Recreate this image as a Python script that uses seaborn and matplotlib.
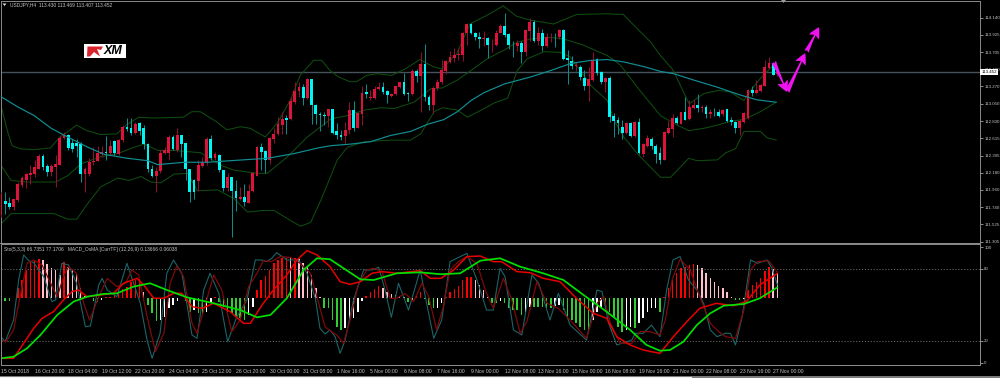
import numpy as np
import seaborn as sns
import matplotlib
matplotlib.use("Agg")
import matplotlib.pyplot as plt
from matplotlib.patches import Rectangle, Polygon, FancyArrowPatch

# ---------- candles (bar order, USDJPY H4) ----------
body_top = [111.91,111.82,111.79,111.84,112.03,112.11,112.16,112.17,112.25,112.39,112.39,112.26,112.26,112.29,112.62,112.66,112.66,112.56,112.55,112.54,
112.23,112.31,112.33,112.43,112.44,112.44,112.52,112.58,112.59,112.76,112.76,112.74,112.80,112.81,112.74,112.54,112.23,112.20,112.43,112.46,
112.63,112.63,112.65,112.65,112.55,112.23,112.08,112.27,112.31,112.60,112.60,112.41,112.40,112.21,112.12,112.12,111.94,111.87,111.87,111.94,
112.17,112.50,112.50,112.45,112.62,112.67,112.80,112.86,112.87,113.08,113.21,113.26,113.26,113.36,113.36,113.04,112.92,112.91,112.98,112.98,
112.70,112.66,112.72,112.97,112.97,112.93,113.19,113.20,113.13,113.24,113.26,113.26,113.21,113.17,113.27,113.32,113.32,113.19,113.47,113.47,
113.55,113.55,113.13,113.25,113.33,113.48,113.59,113.64,113.67,113.68,113.95,114.06,114.06,113.94,113.90,113.88,113.88,113.80,113.95,114.04,
114.04,113.93,113.80,113.82,113.82,113.98,114.09,114.09,113.94,113.94,113.90,113.90,113.90,113.99,113.99,113.63,113.59,113.54,113.52,113.38,
113.36,113.61,113.62,113.45,113.38,113.38,112.89,112.84,112.76,112.81,112.81,112.82,112.82,112.54,112.62,112.61,112.52,112.43,112.69,112.74,
112.87,112.87,112.95,112.94,113.01,113.03,113.04,113.01,113.01,112.95,112.95,112.95,112.97,112.98,112.84,112.82,112.83,112.93,113.23,113.22,
113.22,113.29,113.51,113.57,113.55,113.452]
body_bottom = [111.64,111.78,111.74,111.74,111.83,112.02,112.09,112.15,112.16,112.23,112.25,112.19,112.19,112.25,112.28,112.62,112.49,112.48,112.52,112.16,
112.16,112.16,112.31,112.33,112.42,112.43,112.43,112.43,112.42,112.59,112.73,112.68,112.68,112.71,112.54,112.22,112.14,112.14,112.20,112.43,
112.43,112.48,112.46,112.54,112.23,111.93,111.93,112.07,112.26,112.30,112.37,112.37,112.21,111.98,111.98,111.94,111.86,111.85,111.81,111.80,
111.94,112.14,112.44,112.34,112.34,112.61,112.67,112.78,112.85,112.86,113.07,113.21,113.12,113.12,113.04,112.92,112.91,112.90,112.90,112.68,
112.65,112.63,112.64,112.72,112.74,112.74,112.92,113.18,113.12,113.12,113.24,113.20,113.16,113.15,113.17,113.26,113.17,113.17,113.17,113.40,
113.40,113.13,113.03,113.03,113.25,113.32,113.46,113.58,113.63,113.67,113.67,113.95,113.94,113.90,113.87,113.87,113.79,113.79,113.79,113.95,
113.92,113.80,113.79,113.78,113.71,113.71,113.97,113.85,113.85,113.78,113.78,113.89,113.89,113.89,113.62,113.60,113.53,113.53,113.39,113.27,
113.27,113.35,113.44,113.33,113.32,112.88,112.83,112.81,112.68,112.68,112.64,112.64,112.43,112.42,112.52,112.52,112.42,112.34,112.34,112.68,
112.73,112.81,112.80,112.85,112.86,113.00,113.00,113.00,112.92,112.92,112.95,112.90,112.92,112.83,112.82,112.74,112.74,112.82,112.87,113.19,
113.19,113.21,113.28,113.50,113.42,113.430]
wick_high = [111.93,111.93,111.87,111.85,112.06,112.14,112.17,112.27,112.34,112.41,112.42,112.29,112.29,112.40,112.65,112.69,112.67,112.61,112.61,112.57,
112.25,112.36,112.50,112.52,112.52,112.64,112.59,112.59,112.61,112.78,112.87,112.87,112.82,112.82,112.78,112.55,112.27,112.25,112.46,112.50,
112.65,112.65,112.74,112.65,112.55,112.23,112.10,112.34,112.38,112.63,112.66,112.44,112.42,112.21,112.17,112.12,112.08,112.00,112.03,112.04,
112.19,112.52,112.55,112.46,112.63,112.74,112.88,112.95,112.91,113.14,113.33,113.33,113.30,113.38,113.37,113.05,112.95,112.95,112.99,112.99,
112.81,112.72,112.82,113.07,113.09,112.95,113.28,113.30,113.23,113.28,113.33,113.33,113.23,113.19,113.28,113.33,113.44,113.20,113.49,113.49,
113.71,113.81,113.16,113.28,113.36,113.60,113.61,113.72,113.75,113.75,113.96,114.07,114.07,113.96,113.96,113.97,113.90,113.87,113.98,114.06,
114.20,113.94,113.85,113.86,113.85,113.99,114.14,114.11,114.02,114.00,113.95,113.95,113.95,114.00,114.00,113.73,113.66,113.58,113.54,113.48,
113.52,113.71,113.63,113.46,113.39,113.40,112.93,112.88,112.84,112.82,112.82,112.83,112.87,112.55,112.65,112.63,112.54,112.50,112.71,112.83,
112.92,112.90,112.95,113.14,113.10,113.10,113.17,113.04,113.03,112.99,113.00,112.99,112.99,112.99,112.88,112.83,112.86,112.95,113.24,113.28,
113.35,113.30,113.60,113.64,113.58,113.469]
wick_low = [111.62,111.66,111.72,111.70,111.81,112.00,111.98,112.04,112.12,112.22,112.21,112.14,112.14,112.00,112.27,112.61,112.46,112.44,112.38,112.06,
111.93,112.14,112.27,112.33,112.38,112.34,112.40,112.40,112.40,112.57,112.71,112.65,112.67,112.65,112.48,112.19,112.12,111.93,112.17,112.41,
112.34,112.46,112.44,112.38,112.08,111.81,111.85,111.95,112.25,112.27,112.34,112.34,112.19,111.95,111.95,111.36,111.69,111.83,111.76,111.79,
111.93,112.14,112.21,112.17,112.29,112.55,112.65,112.67,112.67,112.85,113.05,113.14,113.03,113.11,112.80,112.79,112.71,112.78,112.76,112.67,
112.60,112.59,112.55,112.67,112.71,112.74,112.78,113.12,113.10,113.11,113.22,113.18,113.06,113.13,113.16,113.25,113.16,113.08,113.16,113.33,
112.95,113.09,112.97,112.93,113.22,113.30,113.43,113.56,113.58,113.61,113.59,113.79,113.93,113.86,113.75,113.78,113.63,113.71,113.78,113.94,
113.90,113.74,113.64,113.72,113.57,113.65,113.85,113.83,113.79,113.72,113.77,113.83,113.77,113.87,113.60,113.30,113.49,113.47,113.35,113.23,
113.09,113.34,113.42,113.30,113.20,112.82,112.63,112.67,112.60,112.67,112.63,112.63,112.42,112.38,112.50,112.48,112.30,112.29,112.34,112.67,
112.63,112.79,112.79,112.85,112.85,112.99,112.95,112.95,112.87,112.87,112.90,112.88,112.90,112.82,112.78,112.68,112.65,112.81,112.86,113.15,
113.17,113.20,113.27,113.49,113.41,113.407]
falling_bars = [1,2,10,11,16,17,18,19,25,27,30,31,33,34,35,36,41,43,44,45,46,50,52,53,55,56,58,62,63,68,72,74,75,76,77,79,80,81,84,87,91,92,96,97,99,
101,102,112,113,114,116,120,121,122,124,127,129,132,134,135,136,138,139,142,143,145,146,147,148,150,152,155,156,157,161,163,166,168,170,171,173,174,175,179,184]

# ---------- bands and moving average: bar position / price ----------
upper_bar = [0,1.5,2.6,4.6,7.8,11.7,14,15.7,17.9,20.4,23.6,27.5,29.9,32.7,36.2,43.3,45.3,47.3,51.2,53.6,56.8,59.1,62.7,65.5,68.6,71,74.2,76.1,78.1,80.1,82.8,84.4,86.8,89.2,92.7,95.9,99.4,102.6,104.6,108.1,111.3,115.3,119.2,122.3,125.5,131.1,136.6,143.8,147.7,151,154.2,156.5,159.3,160.1,163.3,166.8,170.4,173.1,176.3,177.2,180.2,184]
upper_price = [113.03,112.71,112.52,112.48,112.47,112.49,112.63,112.69,112.78,112.71,112.66,112.67,112.79,112.88,112.87,112.88,112.95,112.95,112.82,112.72,112.76,112.74,112.63,112.80,113.09,113.41,113.60,113.60,113.47,113.39,113.33,113.33,113.41,113.43,113.41,113.49,113.61,113.52,113.49,113.68,114.06,114.17,114.29,114.16,114.11,114.06,114.18,114.19,114.18,114.00,113.83,113.66,113.49,113.41,113.05,113.18,113.22,113.20,113.09,113.17,113.37,113.58]
middle_bar = [0,2.4,6.3,13,15.8,19,23.7,27.7,31.6,34,37.2,41.1,47.4,52.2,55.3,60.9,63.2,68,72.7,78.3,82.2,86.2,90.1,93.3,98,102,104.7,108.3,111.5,115.4,119.4,122.5,125.7,130.4,133.6,138.3,143.9,147,151,156.5,160.5,163.2,166.8,170,173.1,176.3,180.2,184]
middle_price = [112.27,112.08,112.06,112.06,112.14,112.29,112.38,112.42,112.50,112.54,112.46,112.46,112.43,112.27,112.21,112.17,112.17,112.38,112.63,112.86,112.90,112.97,113.00,112.99,113.07,113.24,113.25,113.35,113.47,113.62,113.73,113.83,113.87,113.89,113.87,113.79,113.66,113.54,113.26,112.90,112.78,112.71,112.74,112.78,112.83,112.85,112.95,113.07]
lower_bar = [0,2.4,12.6,15.8,18,20.6,23.7,27.7,30.4,33.2,35.6,37.9,41.1,44.3,46.6,51.4,55.3,58.5,62.4,64.8,68.8,71.1,73.5,75.9,78.3,79.8,82.2,86.2,92.5,97.2,99.6,102.8,104.7,108.3,110.7,115.4,117,120.2,122.5,124.9,128.9,132.8,135.2,140,143.9,145.5,147.8,151,156.5,158.9,163.2,165.2,170,172,174.3,176.3,180.2,181.8,184]
lower_price = [111.53,111.66,111.66,111.59,111.59,111.79,112.00,112.11,112.08,112.13,112.06,112.05,112.16,112.17,111.95,111.96,111.85,111.68,111.70,111.70,111.57,111.50,111.55,111.83,112.14,112.34,112.50,112.57,112.59,112.59,112.67,112.95,113.00,112.97,112.88,113.01,113.06,113.12,113.47,113.62,113.71,113.70,113.64,113.28,113.09,112.84,112.63,112.42,112.12,112.12,112.36,112.33,112.34,112.43,112.48,112.70,112.70,112.62,112.59]
ma_bar = [0,4,7.9,11.9,15.8,20.6,24.5,30,34.8,37.2,43.5,49,54.5,63.2,69.6,75.1,78.3,83,87.7,92.5,97.2,101.2,105.1,108.3,111.5,114.6,119.4,125.7,130.4,135.2,140,143.9,147.8,152.6,156.5,159.7,164.4,170,175.5,179.4,184]
ma_price = [113.14,113.01,112.90,112.74,112.63,112.50,112.41,112.36,112.33,112.28,112.31,112.31,112.33,112.36,112.42,112.49,112.52,112.54,112.57,112.65,112.70,112.79,112.85,112.95,113.09,113.19,113.30,113.39,113.47,113.56,113.60,113.61,113.58,113.52,113.46,113.43,113.35,113.26,113.16,113.10,113.07]

# ---------- oscillators: bar position / value ----------
sto_bar = [0,1,3,4.2,5.4,6.6,7.8,9,10.2,12.1,13,14.5,16.1,18,20.1,21.3,23.3,24.1,25.3,27.6,30,31.6,33.2,34.8,36,37.9,39.5,41.1,43.1,45.5,46.7,48.3,49.8,51.9,54,56.2,58.6,60.6,62.1,63.3,64.5,65.7,68.1,70.9,72.9,74.9,76,77.2,78.4,79.6,80.8,82,84,86.4,88.4,90,91.5,93,94.7,97.1,99.9,101.1,103.1,105,107,108.6,111,113.4,115.7,117.3,118.9,120.1,122.1,124.1,126.5,128.1,130.8,132.8,135.6,139.5,142,143.2,144.8,146.7,150.3,151.1,153,155,157,158.6,160.1,161.8,163.8,165.8,167.4,169,170.6,172.6,173.8,175,176.6,178.6,180.2,182.5,183.7,185]
sto_main = [23.6,19.4,37.5,70.8,91.7,86.9,85.3,79.2,73.6,52.8,54.2,84.7,83.3,68.1,31.9,32.5,66.7,72.2,62.5,56.9,84.7,68.1,51.4,20.8,5.6,26.4,76.4,87.5,76.4,25,22.2,62.5,76.4,59.7,19.4,40.3,54.2,87.5,87.5,86.1,88.9,93.6,87.5,87.5,76.4,55.6,30.6,25.8,29.2,23.6,9.7,20.8,54.2,79.2,79.2,81.4,62.5,39.7,68.1,45.8,79.2,56.9,22.2,37.5,86.1,88.9,93,70.8,45.8,45.8,80.6,73.6,29.2,25,75,68.1,37.5,59.7,33.3,20.8,62.5,61.1,34.7,16.7,20.8,26.4,26.4,33.3,23.6,62.5,87.5,90.3,70.8,62.5,51.4,29.2,23.6,26.4,26.4,16.7,40.3,87.5,84.7,87.5,80.6,66.7]
sig_bar = [0,1.2,3,4.6,6.2,7.8,9.8,12.2,13.4,14.9,16.1,18,19.7,21.1,23.3,25.3,27.6,29.7,31.2,32.8,34.8,36.8,38.8,40.3,41.9,43.5,45.5,46.7,48.3,50.7,52.6,55,57,59,61,62.5,64.5,66.5,68.9,71.3,73.7,75.7,77.2,78.4,80,81.6,83.2,85.2,87.2,88.8,90.8,92.7,94.3,96.3,98.3,100.3,101.9,103.8,105.4,107,109,111,113.4,115.4,117.3,119.7,121.7,123.7,125.3,127.7,130.1,132.8,135.6,139.5,142,143.6,145.2,147.5,150.3,152.3,154.7,157,158.3,159.9,161.8,164.2,166.5,169,171,172.6,175,177,178.6,180.2,182.9,185]
sto_signal = [20.8,19.4,29.2,58.3,84.7,87.5,83.3,65.3,56.9,73.6,81.9,76.4,51.4,37.5,56.9,72.2,65.3,68.1,79.2,75,40.3,11.1,26.4,68.1,82.5,73.6,34.7,26.4,45.8,75,62.5,27.8,37.5,65.3,76.4,86.9,86.1,90.3,89.7,84.7,76.4,51.4,31.9,28.6,25,18.1,37.5,68.1,79.2,80.6,77.8,55.6,55.6,59.7,52.8,68.1,56.9,29.2,48.6,79.2,86.1,90.3,84.7,62.5,47.2,72.2,54.2,26.4,36.1,69.4,51.4,47.2,37.5,22.2,51.4,56.9,34.7,18.1,18.1,27.8,27.8,25,37.5,70.8,88.1,79.2,56.9,34.7,27.8,23.6,22.2,45.8,79.2,86.1,86.9,77.2]
red_bar = [0,3,5.4,7.8,9.8,12.5,14.9,16.9,18.5,20.5,23.7,26.8,29.2,32.4,34,36.4,38.8,41.1,43.1,45.5,47.9,50.7,54.6,57.8,59.4,62.2,64.9,68.1,70.5,72.9,75.3,78.4,80.8,83.2,85.6,88.4,90.8,94.3,99.9,102.3,104.8,107.9,111,114.2,117.3,119.3,122.9,126.1,129.2,133.2,137.1,141.1,144.3,146.7,149.9,153,157,160.2,163.4,166.5,170.4,174.4,177.6,180.8,185]
smooth_red = [5.6,5.6,18.1,30.6,38.9,44.4,54.2,61.1,62.5,56.9,58.3,59.7,68.1,72.2,66.7,55.6,55.6,59.7,59.7,48.6,47.2,51.4,44.4,34.7,34.7,50,62.5,75,87.5,95.3,91.7,81.9,69.4,67.2,69.4,76.4,77.8,76.4,78.6,72.2,72.2,79.2,90.3,90.8,86.1,86.1,77.8,76.9,72.2,69.4,55.6,43.1,38.9,23.6,16.7,12.5,9.7,23.6,36.1,47.2,51.4,49.4,52.8,66.7,76.4]
green_bar = [0,3,6.2,9.4,13.4,17.3,20.5,24.4,27.6,31.6,35.5,39.5,44.3,50.7,57,61,64.2,68.1,72.1,75.3,78.4,81.6,85.6,88.8,94.3,99.9,104.8,109.4,114.2,118.9,123.7,129.2,134,138.8,144.3,149.9,153.8,157,159.4,162.6,165.8,169,172.2,177,180.8,185]
smooth_green = [5.6,6.9,13.9,25,41.7,52.8,56.9,59.2,59.7,65.3,68.1,62.5,56.4,51.4,45.8,39.7,41.7,55.6,79.2,88.9,88.1,80.6,71.4,70.8,76.4,77.2,75.6,76.4,86.9,88.9,81.9,76.4,70.8,58.3,44.4,29.2,16.7,11.9,12.5,19.4,33.3,43.1,49.4,50.8,55.6,64.7]

# MACD OsMA histogram, in multiples of about 0.0018, one value per bar
osma = [-8,-8,-8,0,30,55,85,108,115,118,115,102,90,85,70,110,95,85,72,30,8,0,-8,-10,-5,3,5,10,15,28,35,48,55,55,20,-20,-45,-68,-65,-55,-30,-20,-8,0,-8,-40,-35,-45,-50,-40,-10,5,-10,-25,-40,-45,-55,-60,-65,-50,-25,25,55,68,85,105,115,122,122,120,122,118,105,95,70,30,5,-28,-30,
-65,-85,-95,-90,-65,-60,-40,-8,8,18,28,38,30,20,12,10,8,3,-10,-5,8,20,-3,-20,-30,-28,-15,5,18,28,38,55,65,65,55,40,25,5,-15,-15,-8,-15,-30,-35,-35,-50,-40,-25,-25,-25,-25,-30,-30,-22,-20,-35,-55,-65,-75,-85,-95,-95,-65,-40,-25,-25,-40,-60,-85,-100,-95,-85,-90,-75,-60,-40,-30,-28,-40,
3,30,55,75,90,95,100,103,100,90,75,62,50,38,30,18,5,-6,-6,-2,25,40,50,62,83,95,88,75]

price_ticks = [114.140,113.925,113.705,113.490,113.270,113.050,112.830,112.615,112.395,112.180,111.960,111.740,111.525,111.305]
time_labels = ["15 Oct 2018","16 Oct 20:00","18 Oct 04:00","19 Oct 12:00","22 Oct 20:00","24 Oct 04:00","25 Oct 12:00","26 Oct 20:00","30 Oct 00:00","31 Oct 08:00","1 Nov 16:00","5 Nov 00:00","6 Nov 08:00","7 Nov 16:00","9 Nov 00:00","12 Nov 08:00","13 Nov 16:00","15 Nov 00:00","16 Nov 08:00","19 Nov 16:00","21 Nov 00:00","22 Nov 08:00","23 Nov 16:00","27 Nov 00:00"]
last_price = 113.452

# ---------- look ----------
sns.set_theme(style="dark", rc={"axes.facecolor": "black", "figure.facecolor": "black", "axes.grid": False})
plt.rcParams["font.family"] = ["Liberation Sans", "DejaVu Sans"]
TXT = "#c4c4c4"; FRAME = "#8a8a8a"; FS = 3.7; FS_Y = 3.15
W, H = 1000, 378
fig = plt.figure(figsize=(W/100, H/100), dpi=100, facecolor="black")
ax = fig.add_axes([1/W, 1-243/H, 979/W, 242/H])
hx = fig.add_axes([1/W, 1-365/H, 979/W, 121/H])
ox = fig.add_axes([1/W, 1-365/H, 979/W, 121/H], sharex=hx)
ox.patch.set_visible(False)
XMAX = 979/4.197

def line(axis, x, y, color, lw):
    sns.lineplot(x=x, y=y, ax=axis, color=color, lw=lw, estimator=None, sort=False, legend=False, solid_joinstyle="round")

# ---------- price panel ----------
bars = np.arange(len(body_top))
top, bot, hi, lo = map(np.array, (body_top, body_bottom, wick_high, wick_low))
fall = np.isin(bars, falling_bars)
UP, DOWN = "#dc143c", "#00f5f5"
ax.axhline(last_price, color="#46525c", lw=1.0, zorder=1)
LINE_STRETCH = 1.004
line(ax, np.array(upper_bar)*LINE_STRETCH, upper_price, "#0f4d10", 0.75)
line(ax, np.array(lower_bar)*LINE_STRETCH, lower_price, "#0f4d10", 0.75)
line(ax, np.array(middle_bar)*LINE_STRETCH, middle_price, "#0f4d10", 0.75)
ax.vlines(bars[~fall], lo[~fall], hi[~fall], color="#8c1030", lw=0.75, zorder=3)
ax.vlines(bars[fall], lo[fall], hi[fall], color="#0e8a8c", lw=0.75, zorder=3)
ax.bar(bars[~fall], (top-bot)[~fall], bottom=bot[~fall], width=0.66, color=UP, lw=0, zorder=4)
ax.bar(bars[fall], (top-bot)[fall], bottom=bot[fall], width=0.66, color=DOWN, lw=0, zorder=4)
line(ax, np.array(ma_bar)*LINE_STRETCH, ma_price, "#0f8f94", 0.85)
ax.lines[-1].set_zorder(5)

# projected path arrows
path = [((184.1,113.58),(187.3,113.20)), ((187.3,113.20),(191.6,113.69)), ((191.9,113.71),(194.9,114.02))]
for a, b in path:
    ax.add_patch(FancyArrowPatch(a, b, arrowstyle="fancy,head_length=8,head_width=8,tail_width=3.4",
                                 color="#f012f0", lw=0, mutation_scale=1, shrinkA=0, shrinkB=0, zorder=6))

ax.set_xlim(0, XMAX)
ax.set_ylim(111.288, 114.351)
ax.set_xticks([])
ax.yaxis.tick_right()
ax.set_yticks(price_ticks)
ax.set_yticklabels([f"{v:.3f}" for v in price_ticks])
ax.tick_params(axis="y", length=2, width=0.5, color=TXT, labelcolor=TXT, labelsize=FS_Y, pad=1.0)
ax.set_xlabel(""); ax.set_ylabel("")
ax.text(1.0012, last_price, f"{last_price:.3f}", transform=ax.get_yaxis_transform(), va="center", ha="left", fontsize=FS_Y,
        color="black", clip_on=False, zorder=8, bbox=dict(boxstyle="square,pad=0.3", fc="white", ec="none"))
ax.text(9/979, 1-3.8/242, "USDJPY,H4  113.430 113.469 113.407 113.452", transform=ax.transAxes, va="center", ha="left", fontsize=3.55, color=TXT)

# ---------- oscillator panel ----------
prev = np.r_[osma[0], osma[:-1]]
val = np.array(osma)
cols = np.where(val >= 0, np.where(val >= prev, "#ff0000", "#ffc0cb"), np.where(val <= prev, "#32cd32", "#ffffff"))
hx.bar(np.arange(len(val)), val, width=0.36, color=cols, lw=0)
hx.set_ylim(-200, 163)
hx.set_yticks([])
ticks_x = np.arange(len(time_labels))*8
hx.set_xticks(ticks_x)
hx.set_xticklabels(time_labels, ha="left")
hx.tick_params(axis="x", length=2, width=0.5, color=TXT, labelcolor=TXT, labelsize=FS, pad=1.0)
hx.set_xlim(0, XMAX)

ox.axhline(80, color="#707070", lw=0.6, ls=(0, (1.5, 2)))
ox.axhline(20, color="#707070", lw=0.6, ls=(0, (1.5, 2)))
line(ox, sto_bar, sto_main, "#1c6468", 0.8)
line(ox, sig_bar, sto_signal, "#7e0a0a", 0.9)
line(ox, red_bar, smooth_red, "#e60000", 1.1)
line(ox, green_bar, smooth_green, "#00e000", 1.25)
ox.set_ylim(0, 100.8)
ox.yaxis.tick_right()
ox.set_yticks([98, 80, 20, 2])
ox.set_yticklabels(["100", "80", "20", "0"])
ox.tick_params(axis="y", length=2, width=0.5, color=TXT, labelcolor=TXT, labelsize=FS_Y, pad=1.0)
ox.tick_params(axis="x", bottom=False, labelbottom=False)
ox.set_xlabel(""); ox.set_ylabel("")
ox.text(3/979, 1-5.5/121, "Sto(5,3,3) 66.7351 77.1706   MACD_OsMA [CurrTF] (12,26,9) 0.13666 0.06038", transform=ox.transAxes, va="center", ha="left", fontsize=3.55, color=TXT)

for axis in (ax, hx, ox):
    for s in axis.spines.values():
        s.set_color(FRAME); s.set_linewidth(0.7)
    axis.spines["top"].set_visible(axis is not ox)

# ---------- logo, markers, bottom strip (figure pixels) ----------
def fx(px): return px/W
def fy(py): return 1-py/H
fig.add_artist(Rectangle((fx(84), fy(58)), 42/W, 14/H, transform=fig.transFigure, fc="white", ec="none", zorder=10))
flag = [(87.5,46.5),(103,46.5),(101,50),(97,49),(100,56.5),(94,52),(90,56.5),(87,56.5)]
fig.add_artist(Polygon([(fx(x), fy(y)) for x, y in flag], transform=fig.transFigure, fc="#d9232e", ec="none", zorder=11))
fig.text(fx(104), fy(50.5), "XM", fontsize=9, style="italic", weight="bold", color="black", va="center", ha="left",
         family="Liberation Sans", zorder=12)
fig.add_artist(Polygon([(fx(781), fy(0)), (fx(786), fy(0)), (fx(783.5), fy(3))], transform=fig.transFigure, fc="#9a9a9a", ec="none", zorder=10))
fig.add_artist(Polygon([(fx(2.5), fy(3.5)), (fx(6.5), fy(3.5)), (fx(4.5), fy(6))], transform=fig.transFigure, fc="#dddddd", ec="none", zorder=10))
fig.add_artist(Rectangle((0, 0), 1, 2.5/H, transform=fig.transFigure, fc="#7a7a7a", ec="none", zorder=10))
fig.add_artist(Rectangle((0, 0), 692/W, 1.2/H, transform=fig.transFigure, fc="#f0f0f0", ec="none", zorder=11))
fig.add_artist(Rectangle((0, 1-244/H), 980/W, 1.4/H, transform=fig.transFigure, fc=FRAME, ec="none", zorder=10))

fig.savefig("out.png", dpi=100, facecolor="black")
